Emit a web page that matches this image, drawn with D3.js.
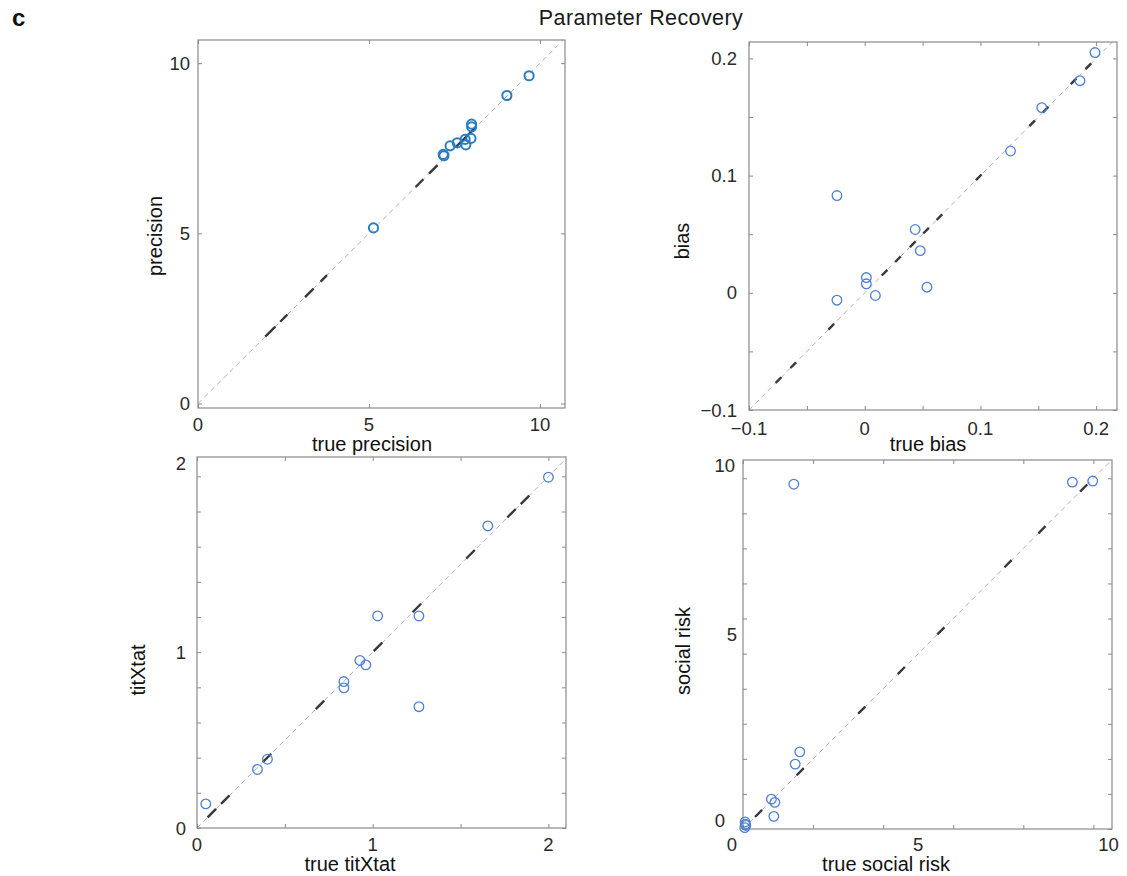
<!DOCTYPE html>
<html>
<head>
<meta charset="utf-8">
<script src="https://cdn.jsdelivr.net/npm/d3@7"></script>
<style>
  body { margin: 0; background: #fff; }
  svg { display: block; font-family: "Liberation Sans", Arial, Helvetica, sans-serif; }
</style>
</head>
<body>
<svg id="fig" width="1127" height="876"></svg>
<script>
// Simulated ("true") and fitted parameter values, one entry per synthetic participant
const precisionTrue = [5.13, 7.17, 7.19, 7.37, 7.58, 7.81, 7.83, 7.98, 8.00, 8.00, 9.03, 9.68];
const precisionFit  = [5.16, 7.32, 7.28, 7.57, 7.66, 7.76, 7.60, 7.79, 8.21, 8.13, 9.05, 9.63];

const biasTrue = [0.199, 0.186, 0.153, 0.126, -0.024, 0.0436, 0.048, 0.0014, 0.0014, 0.0092, 0.0538, -0.024];
const biasFit  = [0.205, 0.181, 0.158, 0.121, 0.083, 0.054, 0.036, 0.013, 0.0077, -0.0023, 0.0048, -0.0063];

const titTrue = [0.05, 0.344, 0.401, 0.836, 0.836, 0.927, 0.961, 1.028, 1.263, 1.263, 1.655, 2.0];
const titFit  = [0.137, 0.333, 0.391, 0.833, 0.797, 0.953, 0.928, 1.206, 1.206, 0.69, 1.718, 1.995];

const riskTrue = [1.45, 9.40, 9.98, 1.62, 1.49, 0.81, 0.91, 0.88, 0.05, 0.08, 0.06, 0.07];
const riskFit  = [9.83, 9.89, 9.92, 2.20, 1.85, 0.85, 0.76, 0.36, 0.04, 0.10, 0.20, 0.14];

// Axis limits, tick marks and labelled ticks
const precisionLim = { x: [0, 10.73], y: [-0.13, 10.68] };
const precisionTicks = [0, 5, 10];
const precisionTickLabels = [0, 5, 10];

const biasLim = { x: [-0.1, 0.218], y: [-0.1, 0.214] };
const biasTicks = [-0.1, -0.05, 0, 0.05, 0.1, 0.15, 0.2];
const biasTickLabels = [-0.1, 0, 0.1, 0.2];

const titLim = { x: [0, 2.10], y: [0, 2.11] };
const titXTicks = [0, 0.5, 1, 1.5, 2];
const titYTicks = [0, 0.2, 0.4, 0.6, 0.8, 1, 1.2, 1.4, 1.6, 1.8, 2];
const titTickLabels = [0, 1, 2];

const riskLim = { x: [0, 10.53], y: [0, 10.52] };
const riskXTicks = [0, 2, 4, 6, 8, 10];
const riskYTicks = [0, 1, 2, 3, 4, 5, 6, 7, 8, 9, 10];
const riskTickLabels = [0, 5, 10];

const panels = [
  {
    xs: precisionTrue, ys: precisionFit, lim: precisionLim,
    xTicks: precisionTicks, yTicks: precisionTicks,
    xTickLabels: precisionTickLabels, yTickLabels: precisionTickLabels,
    xTitle: "true precision", yTitle: "precision",
    box: { left: 198, right: 565, top: 40, bottom: 408 },
    xLabelBase: 431, yLabelRight: 190,
    xTitlePos: [372, 451], yTitlePos: [162, 236],
    marker: { color: "#2b7dc1", width: 2.0, r: 4.6 },
    darkDash: "0 95 14 7 10 25 12 10 9 125 11 8 12 25 29 2000"
  },
  {
    xs: biasTrue, ys: biasFit, lim: biasLim,
    xTicks: biasTicks, yTicks: biasTicks,
    xTickLabels: biasTickLabels, yTickLabels: biasTickLabels,
    xTitle: "true bias", yTitle: "bias",
    box: { left: 749, right: 1117, top: 42, bottom: 410 },
    xLabelBase: 435, yLabelRight: 737,
    xTitlePos: [928, 451], yTitlePos: [689, 241],
    marker: { color: "#4f80d6", width: 1.3, r: 4.8 },
    darkDash: "0 38 8 13 8 46 8 68 8 11 8 13 8 11 8 11 8 48 8 68 8 11 8 32 8 13 8 2000"
  },
  {
    xs: titTrue, ys: titFit, lim: titLim,
    xTicks: titXTicks, yTicks: titYTicks,
    xTickLabels: titTickLabels, yTickLabels: titTickLabels,
    xTitle: "true titXtat", yTitle: "titXtat",
    box: { left: 197, right: 566, top: 457, bottom: 828 },
    xLabelBase: 851, yLabelRight: 186,
    yNudge: { 2: [0, -13] },
    xTitlePos: [350, 871], yTitlePos: [145, 670],
    marker: { color: "#4f80d6", width: 1.3, r: 4.8 },
    darkDash: "0 15 12 7 12 47 12 63 12 70 12 43 12 64 12 46 12 7 12 2000"
  },
  {
    xs: riskTrue, ys: riskFit, lim: riskLim,
    xTicks: riskXTicks, yTicks: riskYTicks,
    xTickLabels: riskTickLabels, yTickLabels: riskTickLabels,
    xTitle: "true social risk", yTitle: "social risk",
    box: { left: 743, right: 1112, top: 460, bottom: 829 },
    xLabelBase: 851, yLabelRight: 735,
    xNudge: { 0: [-11, 0], 10: [15, 0] },
    yNudge: { 0: [-10, -9], 5: [2, -19], 10: [0, -13] },
    xTitlePos: [886, 871], yTitlePos: [690, 651],
    marker: { color: "#4f80d6", width: 1.3, r: 4.8 },
    darkDash: "0 17 10 49 10 77 10 46 10 46 10 85 10 38 10 49 10 2000"
  }
];

const svg = d3.select("#fig");

// Figure letter and overall title
svg.append("text")
  .attr("x", 12).attr("y", 26)
  .attr("font-size", 24).attr("font-weight", "bold").attr("fill", "#111")
  .text("c");

svg.append("text")
  .attr("x", 641).attr("y", 25)
  .attr("text-anchor", "middle")
  .attr("font-size", 21.5).attr("letter-spacing", 0.4).attr("fill", "#1a1a1a")
  .text("Parameter Recovery");

const fmt = v => (Math.abs(v) < 1e-9 ? "0" : d3.format("~g")(v));

panels.forEach((p, i) => {
  const b = p.box;
  const x = d3.scaleLinear().domain(p.lim.x).range([b.left, b.right]);
  const y = d3.scaleLinear().domain(p.lim.y).range([b.bottom, b.top]);
  const g = svg.append("g");

  const clipId = "clip" + i;
  svg.append("clipPath").attr("id", clipId)
    .append("rect")
    .attr("x", b.left).attr("y", b.top)
    .attr("width", b.right - b.left).attr("height", b.bottom - b.top);

  // Identity reference line: thin grey dashes with heavier dark dashes on top
  const lo = Math.max(p.lim.x[0], p.lim.y[0]);
  const hi = Math.min(p.lim.x[1], p.lim.y[1]);
  const diag = d3.line().x(d => x(d)).y(d => y(d));
  const lines = g.append("g").attr("clip-path", `url(#${clipId})`);
  lines.append("path")
    .attr("d", diag([lo, hi]))
    .attr("fill", "none").attr("stroke", "#b0b0b0")
    .attr("stroke-width", 1).attr("stroke-dasharray", "5 4");
  lines.append("path")
    .attr("d", diag([lo, hi]))
    .attr("fill", "none").attr("stroke", "#383838")
    .attr("stroke-width", 2.4).attr("stroke-dasharray", p.darkDash);

  // Box with inward ticks on all four sides
  const tickLen = -4;
  const axes = [
    [d3.axisBottom(x).tickValues(p.xTicks), `translate(0,${b.bottom})`],
    [d3.axisTop(x).tickValues(p.xTicks), `translate(0,${b.top})`],
    [d3.axisLeft(y).tickValues(p.yTicks), `translate(${b.left},0)`],
    [d3.axisRight(y).tickValues(p.yTicks), `translate(${b.right},0)`]
  ];
  axes.forEach(([ax, tr]) => {
    const a = g.append("g").attr("transform", tr)
      .call(ax.tickSize(tickLen).tickSizeOuter(0).tickFormat(""));
    a.select(".domain").remove();
    a.selectAll(".tick line").attr("stroke", "#8a8a8a").attr("stroke-width", 1);
  });
  g.append("rect")
    .attr("x", b.left).attr("y", b.top)
    .attr("width", b.right - b.left).attr("height", b.bottom - b.top)
    .attr("fill", "none").attr("stroke", "#8a8a8a").attr("stroke-width", 1.2);

  // Recovered vs. true values (markers drawn whole, even at the frame edge)
  g.append("g").selectAll("circle")
    .data(p.xs.map((v, k) => [v, p.ys[k]]))
    .join("circle")
    .attr("cx", d => x(d[0]))
    .attr("cy", d => y(d[1]))
    .attr("r", p.marker.r)
    .attr("fill", "none")
    .attr("stroke", p.marker.color)
    .attr("stroke-width", p.marker.width);

  // Tick labels
  const xN = p.xNudge || {}, yN = p.yNudge || {};
  g.selectAll(".xl").data(p.xTickLabels).join("text")
    .attr("x", d => x(d) + (xN[d] ? xN[d][0] : 0))
    .attr("y", d => p.xLabelBase + (xN[d] ? xN[d][1] : 0))
    .attr("text-anchor", "middle")
    .attr("font-size", 18.5).attr("fill", "#2a2a2a")
    .text(fmt);
  g.selectAll(".yl").data(p.yTickLabels).join("text")
    .attr("x", d => p.yLabelRight + (yN[d] ? yN[d][0] : 0))
    .attr("y", d => y(d) + (yN[d] ? yN[d][1] : 0))
    .attr("dy", "0.36em")
    .attr("text-anchor", "end")
    .attr("font-size", 18.5).attr("fill", "#2a2a2a")
    .text(fmt);

  // Axis titles
  g.append("text")
    .attr("x", p.xTitlePos[0]).attr("y", p.xTitlePos[1])
    .attr("text-anchor", "middle")
    .attr("font-size", 20).attr("fill", "#111")
    .text(p.xTitle);
  g.append("text")
    .attr("transform", `translate(${p.yTitlePos[0]},${p.yTitlePos[1]}) rotate(-90)`)
    .attr("text-anchor", "middle")
    .attr("font-size", 20).attr("fill", "#111")
    .text(p.yTitle);
});
</script>
</body>
</html>
